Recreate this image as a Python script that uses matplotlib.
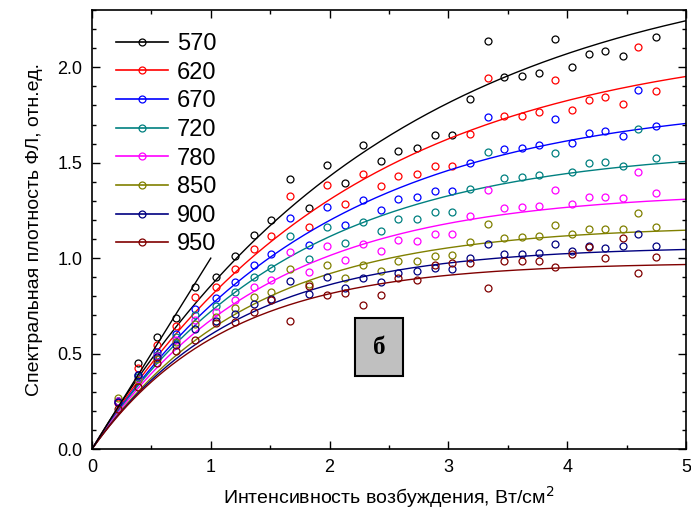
import numpy as np
import matplotlib
matplotlib.use("Agg")
import matplotlib.pyplot as plt
from matplotlib.ticker import MultipleLocator

plt.rcParams['font.family'] = ['Liberation Sans', 'DejaVu Sans']

# интенсивность возбуждения, Вт/см2
x = [0.22, 0.39, 0.55, 0.71, 0.87, 1.04, 1.20, 1.36, 1.51, 1.67, 1.83, 1.98,
     2.13, 2.28, 2.43, 2.58, 2.74, 2.89, 3.03, 3.18, 3.33, 3.47, 3.62, 3.76,
     3.90, 4.04, 4.18, 4.32, 4.47, 4.60, 4.75]

labels = ['570', '620', '670', '720', '780', '850', '900', '950']
colors = ['#000000', '#ff0000', '#0000ff', '#008080',
          '#ff00ff', '#808000', '#000080', '#800000']

# измеренные точки (None - нет точки)
y570 = [0.25, 0.453, 0.586, 0.689, 0.848, 0.901, 1.01, 1.12, 1.202, 1.416, 1.263, 1.486,
        1.396, 1.591, 1.508, 1.559, 1.576, 1.645, 1.645, 1.834, 2.136, 1.949, 1.955, 1.972,
        2.149, 2.002, 2.068, 2.086, 2.058, None, 2.159]
y620 = [0.24, 0.424, 0.546, 0.646, 0.795, 0.851, 0.945, 1.046, 1.115, 1.325, 1.161, 1.384,
        1.283, 1.44, 1.377, 1.431, 1.44, 1.482, 1.482, 1.652, 1.944, 1.743, 1.746, 1.764,
        1.932, 1.774, 1.827, 1.846, 1.81, 2.105, 1.877]
y670 = [0.247, 0.388, 0.506, 0.604, 0.736, 0.791, 0.875, 0.964, 1.022, 1.209, 1.068, 1.267,
        1.173, 1.304, 1.253, 1.312, 1.319, 1.354, 1.353, 1.5, 1.74, 1.571, 1.577, 1.592,
        1.729, 1.604, 1.655, 1.666, 1.639, 1.881, 1.693]
y720 = [0.25, 0.375, 0.495, 0.586, 0.70, 0.751, 0.822, 0.903, 0.95, 1.116, 0.998, 1.164,
        1.081, 1.19, 1.144, 1.205, 1.207, 1.241, 1.24, 1.363, 1.554, 1.42, 1.427, 1.436,
        1.551, 1.451, 1.496, 1.505, 1.485, 1.676, 1.527]
y780 = [0.25, 0.368, 0.485, 0.572, 0.676, 0.72, 0.779, 0.849, 0.884, 1.03, 0.929, 1.062,
        0.99, 1.076, 1.037, 1.097, 1.09, 1.125, 1.125, 1.22, 1.359, 1.261, 1.266, 1.273,
        1.355, 1.286, 1.318, 1.323, 1.314, 1.451, 1.342]
y850 = [0.269, 0.36, 0.47, 0.563, 0.656, 0.693, 0.741, 0.796, 0.821, 0.945, 0.862, 0.962,
        0.898, 0.962, 0.932, 0.985, 0.983, 1.013, 1.014, 1.083, 1.181, 1.105, 1.11, 1.114,
        1.175, 1.128, 1.154, 1.154, 1.154, 1.236, 1.165]
y900 = [0.245, 0.386, 0.48, 0.545, 0.631, 0.67, 0.707, 0.758, 0.787, 0.88, 0.811, 0.901,
        0.846, 0.896, 0.873, 0.922, 0.931, 0.947, 0.943, 1.003, 1.076, 1.02, 1.022, 1.027,
        1.073, 1.039, 1.066, 1.053, 1.065, 1.124, 1.065]
y950 = [0.21, 0.326, 0.453, 0.515, 0.569, 0.66, 0.663, 0.72, 0.779, 0.671, 0.855, 0.805,
        0.82, 0.756, 0.807, 0.897, 0.887, 0.964, 0.977, 0.975, 0.844, 0.985, 0.985, 0.985,
        0.954, 1.021, 1.056, 1.0, 1.104, 0.924, 1.004]
series = [y570, y620, y670, y720, y780, y850, y900, y950]

# параметры аппроксимации y = A*(1 - exp(-x/tau))
amp = [2.595, 2.167, 1.837, 1.583, 1.351, 1.172, 1.062, 0.978]
tau = [2.50, 2.165, 1.895, 1.647, 1.443, 1.306, 1.202, 1.122]

# линейный участок
lin_x = [0, 1.0]
lin_y = [0, 1.0]

fig = plt.figure(figsize=(6.91, 5.17), dpi=100)
ax = fig.add_axes([0.1331, 0.1315, 0.8596, 0.8491])

xf = np.linspace(0, 5, 300)
for lab, c, ys, A, t in zip(labels, colors, series, amp, tau):
    xs = [xi for xi, yi in zip(x, ys) if yi is not None]
    yv = [yi for yi in ys if yi is not None]
    ax.plot(xs, yv, 'o', mfc='none', mec=c, ms=5, mew=0.9, ls='none')
    ax.plot(xf, A * (1 - np.exp(-xf / t)), color=c, lw=1)
    ax.plot([], [], color=c, lw=1.2, marker='o', mfc='none', mec=c, ms=5,
            mew=0.9, label=lab)

ax.plot(lin_x, lin_y, color='black', lw=1)

ax.set_xlim(0, 5)
ax.set_ylim(0, 2.3)
ax.xaxis.set_major_locator(MultipleLocator(1))
ax.xaxis.set_minor_locator(MultipleLocator(0.5))
ax.yaxis.set_major_locator(MultipleLocator(0.5))
ax.yaxis.set_minor_locator(MultipleLocator(0.1))
ax.tick_params(which='both', direction='in', top=True, right=True, labelsize=13)
ax.tick_params(which='major', length=6, width=1, pad=7)
ax.tick_params(which='minor', length=3, width=1)
ax.yaxis.set_major_formatter(matplotlib.ticker.FormatStrFormatter('%.1f'))
for s in ax.spines.values():
    s.set_linewidth(1.2)

ax.set_xlabel('Интенсивность возбуждения, Вт/см$^2$', fontsize=14, labelpad=6)
ax.set_ylabel('Спектральная плотность ФЛ, отн.ед.', fontsize=14, labelpad=10)

ax.legend(loc='upper left', frameon=False, fontsize=17, numpoints=1,
          handlelength=2.2, handletextpad=0.4, labelspacing=0.28,
          borderaxespad=0.3, bbox_to_anchor=(0.012, 0.985))

ax.text(0.483, 0.232, 'б', transform=ax.transAxes, ha='center', va='center',
        fontsize=18, fontweight='bold', family='Liberation Serif',
        bbox=dict(boxstyle='square,pad=0.7', fc='#c0c0c0', ec='black', lw=1.5))

fig.savefig('out.png', dpi=100)
